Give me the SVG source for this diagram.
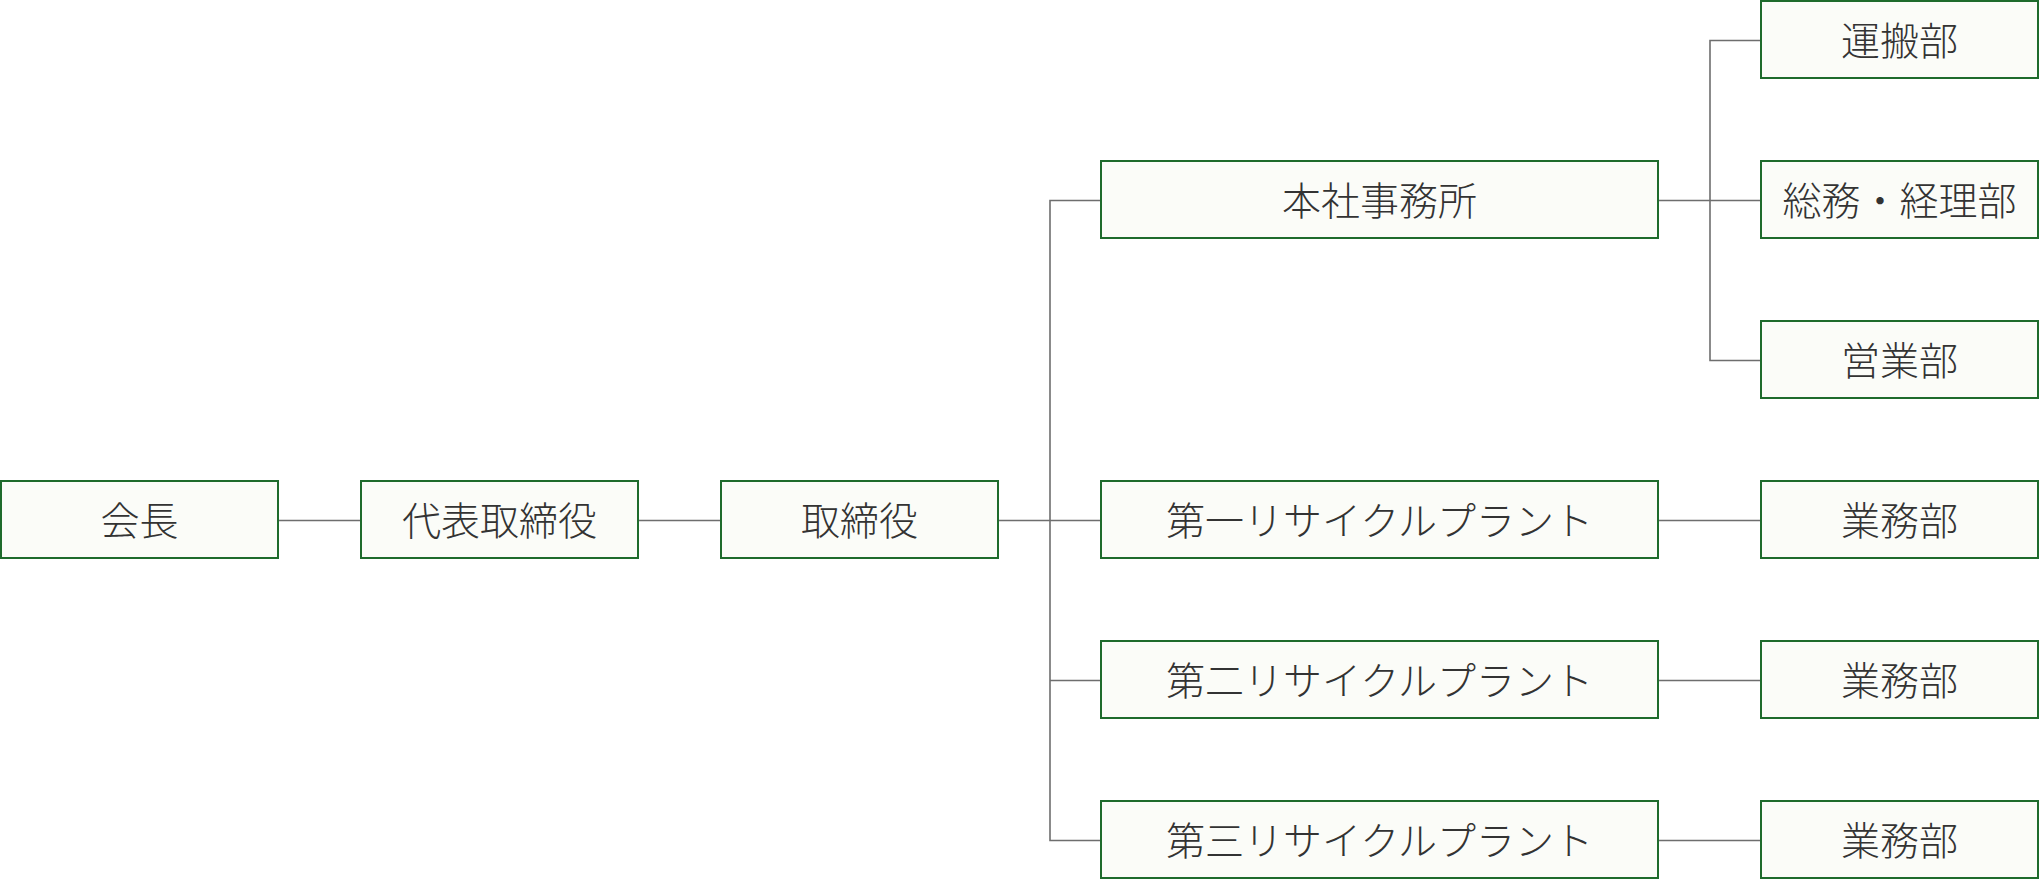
<svg xmlns="http://www.w3.org/2000/svg" width="2040" height="880" viewBox="0 0 2040 880">
<style>
.box{fill:#fbfcf8;stroke:#1e6b2c;stroke-width:2}
.lbl{font-family:"Noto Sans CJK JP","Noto Sans",sans-serif;font-size:39px;font-weight:300;fill:#333;text-anchor:middle;dominant-baseline:central}
.ln{stroke:#6e6e6e;stroke-width:1.6;fill:none}
</style>
<rect width="2040" height="880" fill="#fff"/>
<g id="connectors">
<line class="ln" x1="279" y1="520.5" x2="361" y2="520.5"/>
<line class="ln" x1="639" y1="520.5" x2="721" y2="520.5"/>
<line class="ln" x1="999" y1="520.5" x2="1101" y2="520.5"/>
<polyline class="ln" points="1101,200.5 1050,200.5 1050,840.5 1101,840.5"/>
<line class="ln" x1="1050" y1="680.5" x2="1101" y2="680.5"/>
<line class="ln" x1="1659" y1="200.5" x2="1761" y2="200.5"/>
<polyline class="ln" points="1761,40.5 1710,40.5 1710,360.5 1761,360.5"/>
<line class="ln" x1="1659" y1="520.5" x2="1761" y2="520.5"/>
<line class="ln" x1="1659" y1="680.5" x2="1761" y2="680.5"/>
<line class="ln" x1="1659" y1="840.5" x2="1761" y2="840.5"/>
</g>
<g id="n-kaicho"><rect class="box" x="1" y="481" width="277" height="77"/><text class="lbl" x="139.5" y="518">会長</text></g>
<g id="n-daihyo"><rect class="box" x="361" y="481" width="277" height="77"/><text class="lbl" x="499.5" y="518">代表取締役</text></g>
<g id="n-torishimari"><rect class="box" x="721" y="481" width="277" height="77"/><text class="lbl" x="859.5" y="518">取締役</text></g>
<g id="n-honsha"><rect class="box" x="1101" y="161" width="557" height="77"/><text class="lbl" x="1379.5" y="198">本社事務所</text></g>
<g id="n-plant1"><rect class="box" x="1101" y="481" width="557" height="77"/><text class="lbl" x="1379.5" y="518">第一リサイクルプラント</text></g>
<g id="n-plant2"><rect class="box" x="1101" y="641" width="557" height="77"/><text class="lbl" x="1379.5" y="678">第二リサイクルプラント</text></g>
<g id="n-plant3"><rect class="box" x="1101" y="801" width="557" height="77"/><text class="lbl" x="1379.5" y="838">第三リサイクルプラント</text></g>
<g id="n-unpan"><rect class="box" x="1761" y="1" width="277" height="77"/><text class="lbl" x="1899.5" y="38">運搬部</text></g>
<g id="n-somu"><rect class="box" x="1761" y="161" width="277" height="77"/><text class="lbl" x="1899.5" y="198">総務・経理部</text></g>
<g id="n-eigyo"><rect class="box" x="1761" y="321" width="277" height="77"/><text class="lbl" x="1899.5" y="358">営業部</text></g>
<g id="n-gyomu1"><rect class="box" x="1761" y="481" width="277" height="77"/><text class="lbl" x="1899.5" y="518">業務部</text></g>
<g id="n-gyomu2"><rect class="box" x="1761" y="641" width="277" height="77"/><text class="lbl" x="1899.5" y="678">業務部</text></g>
<g id="n-gyomu3"><rect class="box" x="1761" y="801" width="277" height="77"/><text class="lbl" x="1899.5" y="838">業務部</text></g>
</svg>
